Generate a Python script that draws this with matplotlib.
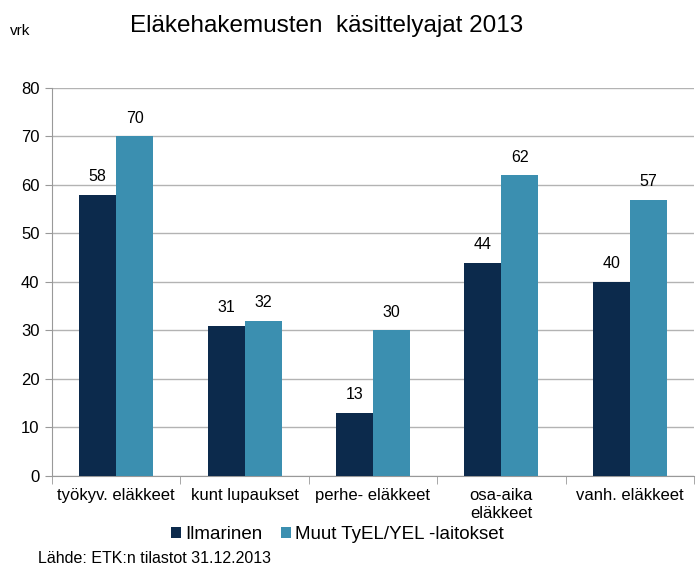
import matplotlib.pyplot as plt
import numpy as np

categories = ["työkyv. eläkkeet", "kunt lupaukset", "perhe- eläkkeet", "osa-aika\neläkkeet", "vanh. eläkkeet"]
ilmarinen = [58, 31, 13, 44, 40]
muut = [70, 32, 30, 62, 57]
series_names = ["Ilmarinen", "Muut TyEL/YEL -laitokset"]

dark = "#0c2a4c"
light = "#3b8fb0"

plt.rcParams['font.family'] = ['Liberation Sans', 'DejaVu Sans']

fig = plt.figure(figsize=(6.96, 5.67), dpi=100)
ax = fig.add_axes([0.0747, 0.1605, 0.9223, 0.6843])

x = np.arange(len(categories))
w = 0.288
b1 = ax.bar(x - w / 2, ilmarinen, w, color=dark, label=series_names[0], zorder=3)
b2 = ax.bar(x + w / 2, muut, w, color=light, label=series_names[1], zorder=3)

for bars, vals in ((b1, ilmarinen), (b2, muut)):
    for r, v in zip(bars, vals):
        ax.text(r.get_x() + r.get_width() / 2, v + 2.2, str(v), ha='center', va='bottom', fontsize=11.5)

ax.set_xlim(-0.5, len(categories) - 0.5)
ax.set_ylim(0, 80)
ax.set_yticks(range(0, 81, 10))
ax.yaxis.grid(True, color="#b3b3b3", linewidth=1, zorder=0)
ax.tick_params(axis='y', labelsize=12, length=5, color="#999999", pad=4)

ax.set_xticks(x)
ax.set_xticklabels(categories, fontsize=12, va='top')
ax.set_xticks(np.arange(-0.5, len(categories)), minor=True)
ax.tick_params(axis='x', which='major', length=0, pad=9)
ax.tick_params(axis='x', which='minor', length=6, color="#999999")

for s in ('top', 'right'):
    ax.spines[s].set_visible(False)
for s in ('left', 'bottom'):
    ax.spines[s].set_color("#999999")

fig.text(0.187, 0.955, "Eläkehakemusten  käsittelyajat 2013", fontsize=17.5, va='center')
fig.text(0.014, 0.945, "vrk", fontsize=11, va='center')

fig.legend(handles=[b1, b2], loc='center', bbox_to_anchor=(0.485, 0.057), ncol=2, frameon=False,
           fontsize=13.5, handlelength=0.55, handleheight=0.55, handletextpad=0.2, columnspacing=1.0)
fig.text(0.055, 0.015, "Lähde: ETK:n tilastot 31.12.2013", fontsize=11.5, va='center')

plt.savefig("out.png", dpi=100)
